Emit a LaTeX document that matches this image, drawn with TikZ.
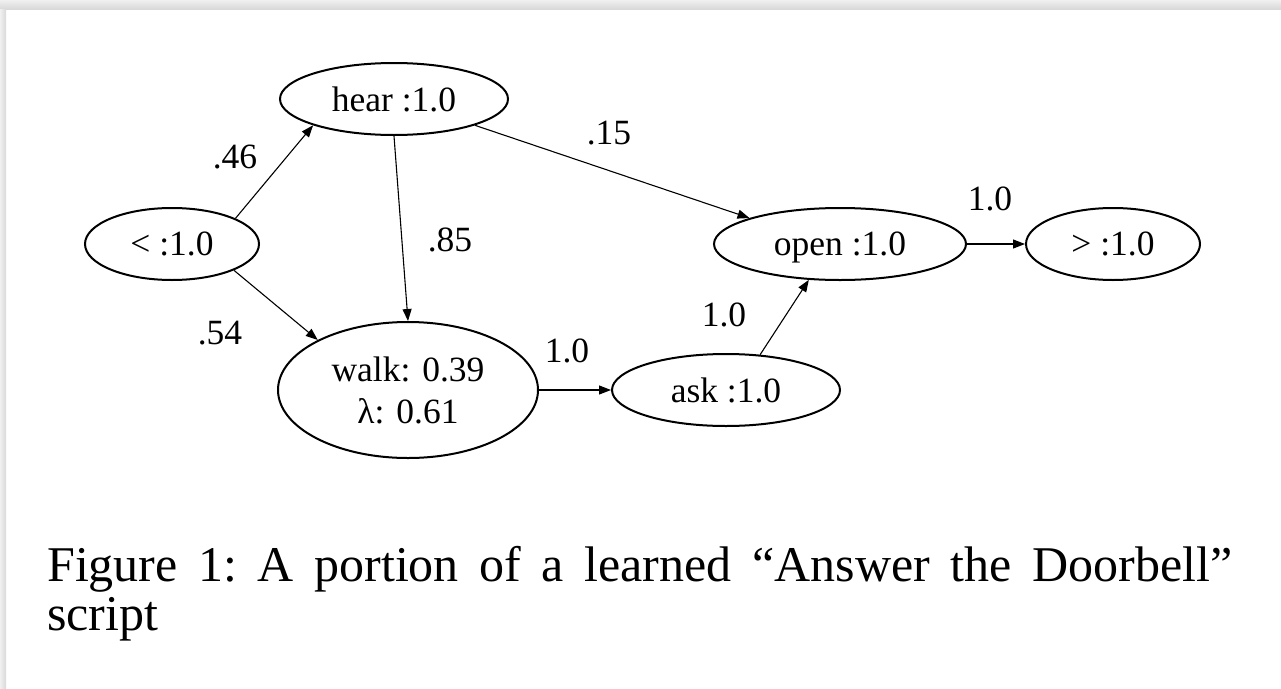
\documentclass[tikz,border=0pt]{standalone}
\usepackage{fontspec}
\setmainfont{Liberation Serif}
\usetikzlibrary{shapes.geometric,arrows.meta}
\newcommand\gfont{\fontsize{35.5}{42}\selectfont}
\newcommand\capfont{\fontsize{50}{50}\selectfont\frenchspacing}
\begin{document}
\begin{tikzpicture}[x=1pt,y=-1pt,
  state/.style={draw=black, line width=2pt, ellipse, inner sep=0pt,
    font=\gfont, text depth=0pt, minimum height=72pt},
  prob/.style={font=\gfont, inner sep=0pt},
  edge/.style={draw=black, line width=1.1pt, -{Triangle[length=12pt,width=9pt]}},
  caption/.style={anchor=base west, inner sep=0pt, font=\capfont},
]
% page and its shadowed frame
\useasboundingbox (0,0) rectangle (1281,688);
\fill[white] (0,0) rectangle (1281,688);
\shade[top color=gray!12, bottom color=gray!30] (0,0) rectangle (1281,9);
\shade[left color=gray!12, right color=gray!30] (0,9) rectangle (6,688);

% states of the script
\node[state, minimum width=174pt] (start) at (172,244) {< :1.0};
\node[state, minimum width=228pt] (hear)  at (394,99)  {hear :1.0};
\node[state, minimum width=260pt, minimum height=136pt, align=center] (walk) at (408,390) {walk: 0.39\\λ: 0.61};
\node[state, minimum width=228pt] (ask)   at (726,390) {ask :1.0};
\node[state, minimum width=252pt] (open)  at (840,244) {open :1.0};
\node[state, minimum width=174pt] (final) at (1113,244) {> :1.0};

% transitions
\draw[edge] (start.22)  -- (hear.198);
\draw[edge] (start.337) -- (walk.151);
\draw[edge] (hear.south) -- (walk.north);
\draw[edge] (hear.342)  -- (open.164);
\draw[edge] (walk.east) -- (ask.west);
\draw[edge] (ask.46)    -- (open.229);
\draw[edge] (open.east) -- (final.west);

% transition probabilities
\node[prob] (p46) at (235,157) {.46};
\node[prob] (p54) at (220,333) {.54};
\node[prob] (p85) at (450,240) {.85};
\node[prob] (p15) at (609,133) {.15};
\node[prob] (pwa) at (567,351) {1.0};
\node[prob] (pao) at (724,315) {1.0};
\node[prob] (pof) at (990,199) {1.0};

% caption
\node[caption] (cap1) at (47,581) {\makebox[1185pt][s]{Figure 1: A portion of a learned “Answer the Doorbell”}};
\node[caption] (cap2) at (47,630) {script};
\end{tikzpicture}
\end{document}
